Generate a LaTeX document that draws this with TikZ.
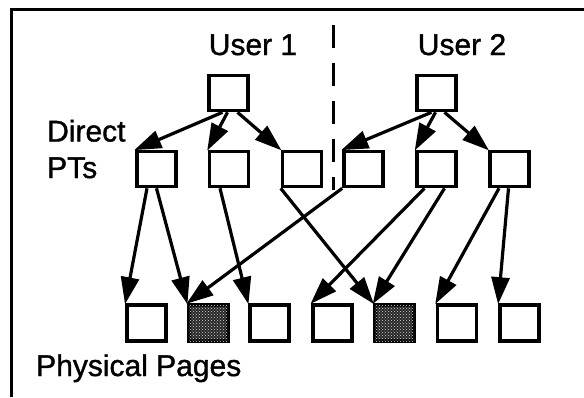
\documentclass[tikz,border=0pt]{standalone}
\usepackage{fontspec}
\setmainfont{Liberation Sans}
\newfontfamily\labelfont[FakeBold=1.2]{Liberation Sans}
\usetikzlibrary{arrows.meta,calc,patterns}

\tikzset{
  page/.style={draw, line width=3.6pt, minimum width=39pt, minimum height=35pt,
    inner sep=0pt, fill=white},
  frame/.style={draw, line width=3.6pt, minimum width=39pt, minimum height=36pt,
    inner sep=0pt},
  shaded/.style={fill=black!85, postaction={pattern=crosshatch dots, pattern color=white!85!black}},
  ptr/.style={line width=3.2pt, -{Triangle[length=27pt,width=18pt]}, shorten >=-1pt},
  lbl/.style={font=\labelfont\fontsize{30}{36}\selectfont, inner sep=0pt, anchor=base},
}

\begin{document}
\begin{tikzpicture}[x=1pt,y=-1pt]
\useasboundingbox (0,0) rectangle (584,397);

% outer frame: left and top sides only
\draw[line width=3.4pt] (11.5,397) -- (11.5,9.5) -- (584,9.5);

% separator between the two users
\draw[line width=3pt, dash pattern=on 23pt off 15pt] (333,25) -- (333,190);

% labels
\node[lbl] (u1) at (253,55) {User 1};
\node[lbl] (u2) at (462,55) {User 2};
\node[lbl, anchor=base west] (dir) at (47,141.5) {Direct};
\node[lbl, anchor=base west] (pts) at (47,178) {PTs};
\node[lbl, anchor=base west] (phys) at (36,376) {Physical Pages};

% root page tables
\node[page] (r1) at (228.5,93) {};
\node[page] (r2) at (436.5,93) {};

% direct page tables
\node[page] (m1) at (156.5,169) {};
\node[page] (m2) at (229,169) {};
\node[page] (m3) at (302,169) {};
\node[page] (m4) at (363.5,169) {};
\node[page] (m5) at (436.5,169) {};
\node[page] (m6) at (509.5,169) {};

% physical pages
\node[frame] (p1) at (146.5,323) {};
\node[frame, shaded] (p2) at (208.5,323) {};
\node[frame] (p3) at (269.5,323) {};
\node[frame] (p4) at (332.5,323) {};
\node[frame, shaded] (p5) at (394.5,323) {};
\node[frame] (p6) at (457,323) {};
\node[frame] (p7) at (519.5,323) {};

% user 1 root -> direct PTs
\draw[ptr] ([xshift=-6pt]r1.south) -- (m1.north west);
\draw[ptr] ([xshift=-1pt]r1.south) -- (m2.north west);
\draw[ptr] ([xshift=9pt]r1.south) -- (m3.north west);

% user 2 root -> direct PTs
\draw[ptr] ([xshift=-5pt]r2.south) -- (m4.north west);
\draw[ptr] ([xshift=-1pt]r2.south) -- (m5.north west);
\draw[ptr] ([xshift=8pt]r2.south) -- (m6.north west);

% direct PTs -> physical pages
\draw[ptr] ([xshift=-9.5pt]m1.south) -- (p1.north west);
\draw[ptr] ([xshift=0pt]m1.south) -- (p2.north west);
\draw[ptr] ([xshift=-9pt]m2.south) -- (p3.north west);
\draw[ptr] (m3.south west) -- (p5.north west);
\draw[ptr] (m4.south west) -- (p2.north west);
\draw[ptr] ([xshift=-12pt]m5.south) -- (p4.north west);
\draw[ptr] ([xshift=8pt]m5.south) -- (p5.north west);
\draw[ptr] ([xshift=-10.5pt]m6.south) -- (p6.north west);
\draw[ptr] ([xshift=-1pt]m6.south) -- (p7.north west);
\end{tikzpicture}
\end{document}
